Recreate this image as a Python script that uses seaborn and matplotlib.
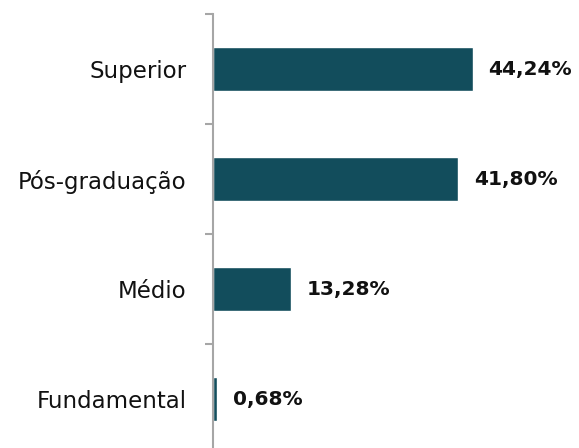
import matplotlib
matplotlib.use('Agg')
import matplotlib.pyplot as plt
import seaborn as sns
import pandas as pd
import numpy as np

# Escolaridade - percentuais
categorias = ['Superior', 'Pós-graduação', 'Médio', 'Fundamental']
valores = [44.24, 41.80, 13.28, 0.68]
rotulos = ['44,24%', '41,80%', '13,28%', '0,68%']

df = pd.DataFrame({'cat': categorias, 'val': valores})

sns.set_style('white')
plt.rcParams['font.family'] = ['DejaVu Sans']

fig = plt.figure(figsize=(5.79, 4.48), dpi=100)
ax = fig.add_axes([213 / 579, -6 / 448, 364 / 579, 440 / 448])

sns.barplot(data=df, x='val', y='cat', color='#124d5c', width=0.4,
            saturation=1, ax=ax)

ax.set_xlim(0, 62)
ax.set_ylim(3.5, -0.5)
ax.set_xlabel('')
ax.set_ylabel('')
ax.set_xticks([])

# ticks on category boundaries
ax.set_yticks(np.arange(len(categorias)))
ax.set_yticklabels(categorias, fontsize=16.5, color='#111111')
ax.tick_params(axis='y', which='major', length=0, pad=19)
ax.set_yticks(np.arange(-0.5, len(categorias), 1), minor=True)
ax.tick_params(axis='y', which='minor', left=True, length=6, width=1.5,
               color='#a6a6a6')

for s in ['top', 'right', 'bottom']:
    ax.spines[s].set_visible(False)
ax.spines['left'].set_color('#a6a6a6')
ax.spines['left'].set_linewidth(1.5)

for i, (v, lab) in enumerate(zip(valores, rotulos)):
    ax.text(v + 2.7, i, lab, va='center', ha='left', fontsize=14.5,
            fontweight='bold', color='#111111')

fig.savefig('out.png', dpi=100)
